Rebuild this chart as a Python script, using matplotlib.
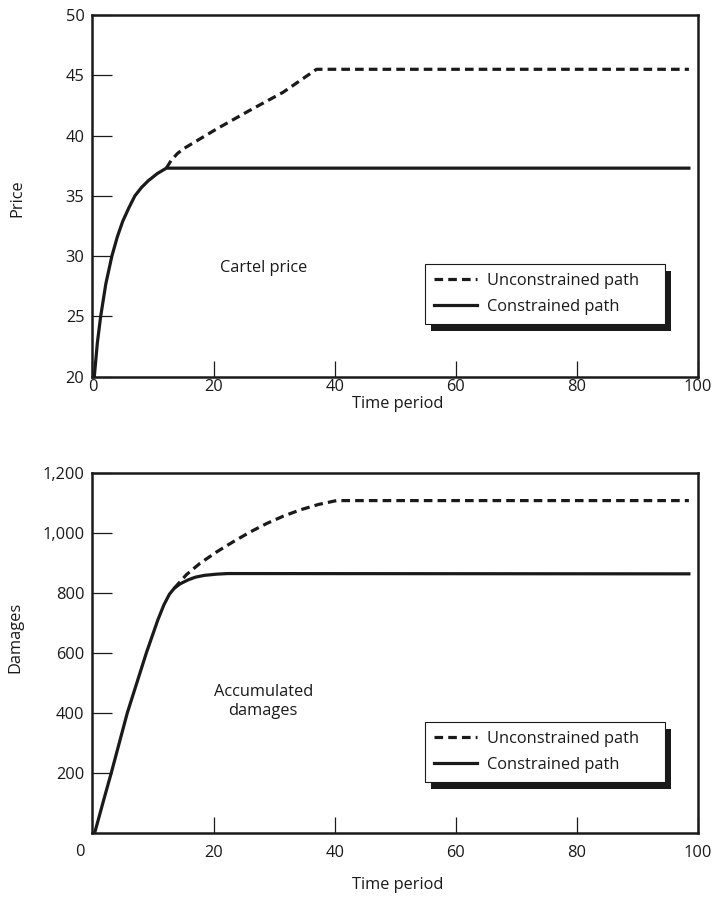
import matplotlib
matplotlib.use("Agg")
import matplotlib.pyplot as plt
from matplotlib.patches import Rectangle
from matplotlib.transforms import IdentityTransform

plt.rcParams['font.family'] = ['Open Sans', 'DejaVu Sans']

# --- cartel price (top panel) ---
price_t_con = [0.3, 0.8, 1.35, 2.2, 3.2, 4.1, 5.0, 6.0, 7.0, 8.1, 9.2, 10.7, 12.2, 98.5]
price_con = [20.0, 22.8, 25.0, 27.7, 30.0, 31.6, 32.9, 34.0, 35.0, 35.7, 36.25, 36.85, 37.3, 37.3]
price_t_unc = [12.2, 13.0, 14.0, 15, 20.5, 26, 31.5, 37, 98.5]
price_unc = [37.3, 37.95, 38.5, 38.9, 40.55, 42.1, 43.6, 45.5, 45.5]

# --- accumulated damages (bottom panel) ---
dmg_t_con = [0.36, 1.85, 3.1, 5.75, 8.9, 10.8, 11.8, 12.7, 13.5, 14.5, 15.8, 17.0, 18.5, 20.5, 22.4, 98.5]
dmg_con = [0, 110, 200, 400, 600, 710, 760, 795, 815, 830, 843, 852, 858, 862, 864, 863]
dmg_t_unc = [13.5, 15.5, 17.75, 20.5, 23.25, 26, 28.8, 31.5, 34.3, 37.3, 40.3, 98.5]
dmg_unc = [815, 860, 898, 936, 970, 1002, 1031, 1055, 1076, 1094, 1107, 1107]

x_ticks = [0, 20, 40, 60, 80, 100]
price_ticks = [20, 25, 30, 35, 40, 45, 50]
dmg_ticks = [200, 400, 600, 800, 1000, 1200]
dmg_ticklabels = ['200', '400', '600', '800', '1,000', '1,200']

fig = plt.figure(figsize=(7.12, 9.01), dpi=100)
ax1 = fig.add_axes([0.1299, 0.5819, 0.8504, 0.4014])
ax2 = fig.add_axes([0.1299, 0.0755, 0.8504, 0.3999])

ink = '#1a1a1a'
dash = (0, (2.7, 1.6))
lw = 2.3
fs = 11.8

ax1.plot(price_t_unc, price_unc, color=ink, lw=lw, linestyle=dash, label='Unconstrained path')
ax1.plot(price_t_con, price_con, color=ink, lw=lw, label='Constrained path', solid_joinstyle='round')
ax2.plot(dmg_t_unc, dmg_unc, color=ink, lw=lw, linestyle=dash, label='Unconstrained path')
ax2.plot(dmg_t_con, dmg_con, color=ink, lw=lw, label='Constrained path', solid_joinstyle='round')

ax1.set_xlim(0, 100)
ax1.set_ylim(20, 50)
ax2.set_xlim(0, 100)
ax2.set_ylim(0, 1200)

ax1.set_xticks(x_ticks)
ax1.set_yticks(price_ticks)
ax2.set_xticks(x_ticks[1:])
ax2.set_yticks(dmg_ticks)
ax2.set_yticklabels(dmg_ticklabels)

for ax in (ax1, ax2):
    for s in ax.spines.values():
        s.set_linewidth(1.8)
        s.set_color(ink)
    ax.tick_params(axis='y', direction='in', length=14.4, width=0.9, pad=5.8,
                   labelsize=fs, colors=ink)
    ax.tick_params(axis='x', direction='in', length=11.3, width=0.9,
                   labelsize=fs, colors=ink)
    ax.patch.set_visible(False)

ax1.tick_params(axis='x', pad=2)
ax2.tick_params(axis='x', pad=9)

# corner "0" of the lower panel
ax2.annotate('0', xy=(0, 0), xytext=(-12.5, -19), textcoords='offset pixels',
             ha='center', va='center', fontsize=fs, color=ink)

ax1.set_xlabel('Time period', fontsize=fs, color=ink)
ax1.set_ylabel('Price', fontsize=fs, color=ink)
ax2.set_xlabel('Time period', fontsize=fs, color=ink)
ax2.set_ylabel('Damages', fontsize=fs, color=ink)
ax1.xaxis.set_label_coords(0.504, -0.0755)
ax1.xaxis.label.set_va('center')
ax2.xaxis.set_label_coords(0.504, -0.145)
ax2.xaxis.label.set_va('center')
ax1.yaxis.set_label_coords(-0.1247, 0.494)
ax1.yaxis.label.set_va('center')
ax2.yaxis.set_label_coords(-0.127, 0.5426)
ax2.yaxis.label.set_va('center')

ax1.text(28.2, 29.0, 'Cartel price', ha='center', va='center', fontsize=fs, color=ink)
ax2.text(28.2, 437, 'Accumulated\ndamages', ha='center', va='center', fontsize=fs,
         color=ink, linespacing=1.25)

legends = []
for ax, y_top, y_bot in ((ax1, 0.3116, 0.143), (ax2, 0.308, 0.130)):
    leg = ax.legend(loc='upper left', bbox_to_anchor=(0.549, y_bot, 0.3965, y_top - y_bot),
                    mode='expand', borderaxespad=0,
                    fontsize=fs, frameon=True, fancybox=False, handlelength=2.65,
                    handletextpad=0.6, borderpad=0.55, labelspacing=0.6)
    leg.get_frame().set_edgecolor(ink)
    leg.get_frame().set_linewidth(0.8)
    leg.get_frame().set_facecolor('white')
    leg.get_frame().set_alpha(1)
    for t in leg.get_texts():
        t.set_color(ink)
    legends.append((ax, leg))

fig.canvas.draw()
for ax, leg in legends:
    bb = leg.get_window_extent()
    sh = Rectangle((bb.x0 + 6, bb.y0 - 7), bb.width, bb.height, transform=IdentityTransform(),
                   facecolor=ink, edgecolor='none', zorder=leg.get_zorder() - 0.5)
    sh.set_clip_on(False)
    ax.add_artist(sh)

fig.savefig('out.png', dpi=100)
